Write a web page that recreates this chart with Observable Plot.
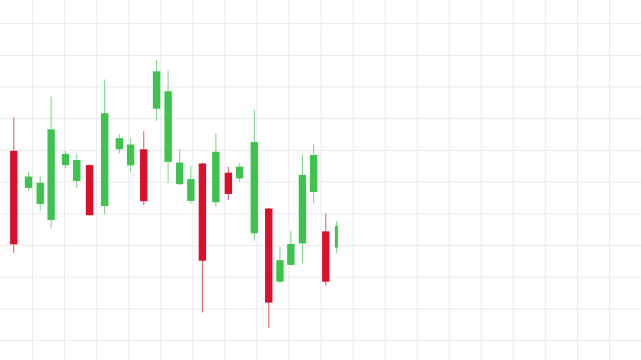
<!DOCTYPE html>
<html>
<head>
<meta charset="utf-8">
<script src="https://cdn.jsdelivr.net/npm/d3@7"></script>
<script src="https://cdn.jsdelivr.net/npm/@observablehq/plot@0.6"></script>
<style>
  html, body { margin: 0; padding: 0; background: #ffffff; }
  #chart svg { display: block; }
</style>
</head>
<body>
<div id="chart"></div>
<script>
// Time position of each candle (arbitrary time units, grid every 10)
const times  = [4.15, 8.74, 12.4, 15.8, 20.3, 23.8, 27.8, 32.5, 37.1, 40.6, 44.7, 48.7, 52.3, 55.9,
                59.4, 63.0, 67.2, 71.1, 74.6, 79.2, 83.7, 87.2, 90.6, 94.2, 97.7, 101.5, 104.8];
const opens  = [159.7, 148.0, 142.9, 137.9, 155.2, 150.2, 155.2, 142.3, 160.2, 155.1, 160.2, 173.0, 156.2, 149.2,
                143.9, 155.7, 143.5, 152.8, 151.0, 133.7, 141.5, 118.4, 123.7, 130.5, 146.7, 134.3, 129.2];
const closes = [130.2, 151.6, 149.6, 166.5, 158.7, 156.8, 139.4, 171.6, 163.7, 161.7, 143.8, 184.8, 178.5, 156.0,
                150.8, 125.0, 159.4, 146.1, 154.7, 162.5, 111.8, 125.2, 130.3, 152.1, 158.4, 118.4, 136.0];
const highs  = [170.3, 152.9, 151.7, 176.8, 159.7, 158.7, 155.4, 182.2, 164.9, 163.8, 165.9, 188.3, 185.1, 160.2,
                155.0, 155.9, 165.2, 154.7, 155.7, 172.6, 141.7, 129.4, 134.5, 158.6, 161.8, 140.0, 137.6];
const lows   = [127.5, 147.0, 140.8, 135.2, 154.2, 148.0, 139.2, 139.7, 158.9, 152.9, 142.5, 169.2, 149.6, 148.9,
                143.1, 108.7, 142.1, 144.2, 149.9, 131.3, 103.7, 117.9, 123.5, 124.2, 143.1, 117.1, 127.4];
const xTicks = d3.range(10, 201, 10);
const yTicks = d3.range(100, 201, 10);

const candles = times.map((t, i) => ({
  t, open: opens[i], close: closes[i], high: highs[i], low: lows[i]
}));
const n = candles.length;
const UP = "#3ec34e", DOWN = "#d8102b";
const color = d => d.close >= d.open ? UP : DOWN;

const chart = Plot.plot({
  width: 641,
  height: 360,
  margin: 0,
  style: { background: "#ffffff" },
  x: { domain: [0, 200], axis: null },
  y: { domain: [93.7, 207.3], axis: null },
  marks: [
    Plot.gridX(xTicks, { stroke: "#ebebeb", strokeOpacity: 1 }),
    Plot.gridY(yTicks, { stroke: "#ebebeb", strokeOpacity: 1 }),
    Plot.ruleX(candles, { x: "t", y1: "low", y2: "high", stroke: color, strokeWidth: 1, strokeOpacity: 0.7 }),
    Plot.ruleX(candles, { x: "t", y1: "open", y2: "close", stroke: color,
                          strokeWidth: (d, i) => i === n - 1 ? 3 : 7.4 })
  ]
});
document.getElementById("chart").appendChild(chart);
</script>
</body>
</html>
